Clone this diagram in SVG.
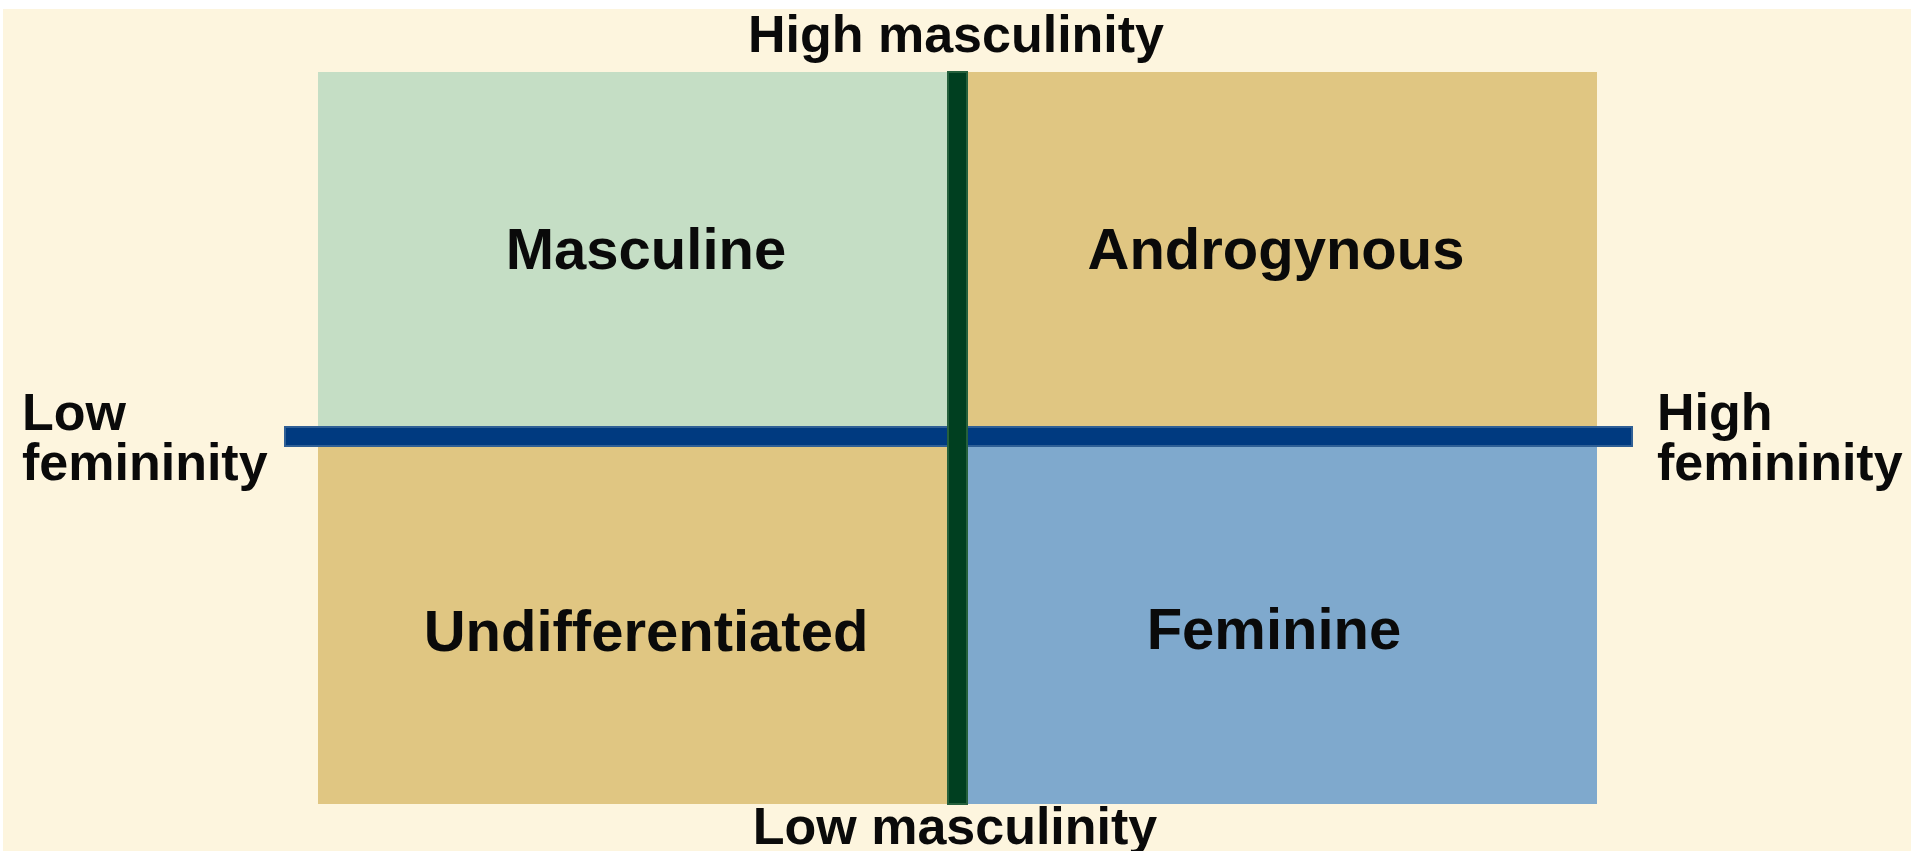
<svg xmlns="http://www.w3.org/2000/svg" width="1915" height="851" viewBox="0 0 1915 851">
  <style>
    text { font-family: "Liberation Sans", Arial, Helvetica, sans-serif; font-weight: bold; fill: #0a0a0a; }
    .q { font-size: 58px; text-anchor: middle; }
    .ax { font-size: 52px; }
    .axc { font-size: 52px; text-anchor: middle; }
  </style>
  <rect x="0" y="0" width="1915" height="851" fill="#ffffff"/>
  <rect x="3" y="9" width="1908" height="842" fill="#fdf5de"/>

  <g id="masculine">
    <rect x="318" y="72" width="630" height="355" fill="#c5dec5"/>
    <text class="q" x="646" y="269">Masculine</text>
  </g>
  <g id="androgynous">
    <rect x="967" y="72" width="630" height="355" fill="#e0c682"/>
    <text class="q" x="1276" y="269">Androgynous</text>
  </g>
  <g id="undifferentiated">
    <rect x="318" y="445" width="630" height="359" fill="#e0c682"/>
    <text class="q" x="646" y="651">Undifferentiated</text>
  </g>
  <g id="feminine">
    <rect x="967" y="445" width="630" height="359" fill="#7fa9cd"/>
    <text class="q" x="1274" y="649">Feminine</text>
  </g>

  <g id="axes">
    <rect x="285" y="427" width="1347" height="19" fill="#003a80" stroke="#2f5f95" stroke-width="2"/>
    <rect x="948" y="72" width="19" height="732" fill="#003f20" stroke="#25603c" stroke-width="2"/>
  </g>

  <g id="label-high-masculinity">
    <text class="axc" x="956" y="52">High masculinity</text>
  </g>
  <g id="label-low-masculinity">
    <text class="axc" x="955" y="844">Low masculinity</text>
  </g>
  <g id="label-low-femininity">
    <text class="ax" x="22" y="430">Low<tspan x="22" dy="50">femininity</tspan></text>
  </g>
  <g id="label-high-femininity">
    <text class="ax" x="1657" y="430">High<tspan x="1657" dy="50">femininity</tspan></text>
  </g>
</svg>
